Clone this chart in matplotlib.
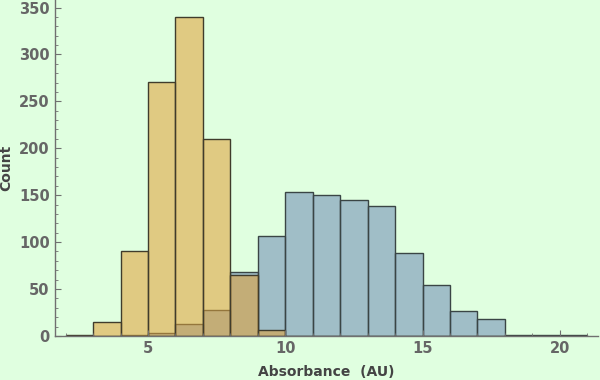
import numpy as np
import matplotlib.pyplot as plt
from matplotlib.ticker import MultipleLocator

# bin edges (width 1) and counts
edges = np.arange(2, 22)
yellow_counts = [1, 15, 90, 271, 340, 210, 65, 6, 0, 0, 0, 0, 0, 0, 0, 0, 0, 0, 0]
blue_counts = [0, 0, 1, 3, 13, 28, 68, 106, 153, 150, 145, 138, 88, 54, 27, 18, 1, 1, 1]

bg = "#e0ffe0"
fig = plt.figure(figsize=(6, 3.8), dpi=100, facecolor=bg)
ax = fig.add_axes([0.092, 0.116, 0.905, 0.884])
ax.set_facecolor(bg)

left = edges[:-1]
# facecolor carries the transparency, edges stay solid
ax.bar(left, blue_counts, width=1, align="edge", color=(0.424, 0.537, 0.706, 0.55),
       edgecolor="#3a4545", linewidth=1.0)
ax.bar(left, yellow_counts, width=1, align="edge", color=(0.878, 0.627, 0.208, 0.55),
       edgecolor="#403c2c", linewidth=1.0)

ax.set_xlim(1.62, 21.4)
ax.set_ylim(0, 358)

for s in ["top", "right"]:
    ax.spines[s].set_visible(False)
for s in ["left", "bottom"]:
    ax.spines[s].set_color("#707070")
    ax.spines[s].set_linewidth(1.0)

ax.set_xticks([5, 10, 15, 20])
ax.xaxis.set_minor_locator(MultipleLocator(1))
ax.set_yticks(np.arange(0, 351, 50))
ax.yaxis.set_minor_locator(MultipleLocator(10))
ax.tick_params(axis="both", which="major", direction="in", colors="#707070",
               labelcolor="#666666", labelsize=10.5, length=4, pad=4)
ax.tick_params(axis="both", which="minor", direction="in", colors="#707070", length=2)
for lab in ax.get_xticklabels() + ax.get_yticklabels():
    lab.set_fontweight("bold")

ax.set_xlabel("Absorbance  (AU)", fontsize=10, fontweight="bold", color="#444444", labelpad=6)
ax.set_ylabel("Count", fontsize=10, fontweight="bold", color="#444444", labelpad=4)

fig.savefig("out.png", dpi=100, facecolor=bg)
